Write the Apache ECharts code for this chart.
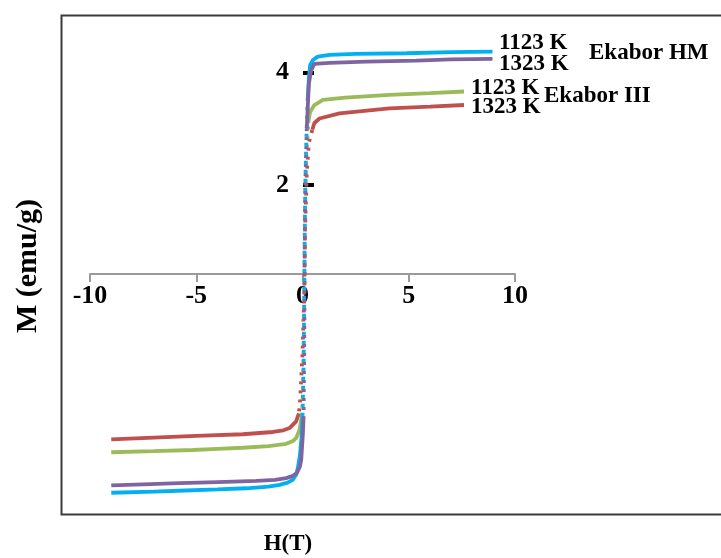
<!DOCTYPE html>
<html>
<head>
<meta charset="utf-8">
<script src="https://cdn.jsdelivr.net/npm/echarts@6/dist/echarts.min.js"></script>
<style>
html,body{margin:0;padding:0;background:#fff;}
#chart{width:721px;height:558px;}
</style>
</head>
<body>
<div id="chart"></div>
<script>
// ---- data (H in T, M in emu/g) ----
const seriesNames = ['Ekabor HM 1123 K', 'Ekabor HM 1323 K', 'Ekabor III 1123 K', 'Ekabor III 1323 K'];
const hm1123 = [[-9.0,-3.47],[-7.0,-3.45],[-5.5,-3.43],[-4.0,-3.41],[-2.65,-3.39],[-1.6,-3.36],[-1.08,-3.33],[-0.7,-3.29],[-0.46,-3.24],[-0.3,-3.15],[-0.22,-3.03],[-0.12,-2.8],[-0.05,-2.5],[0.0,-2.1],[0.05,-1.2],[0.08,0.0],[0.1,1.0],[0.13,2.0],[0.18,2.8],[0.24,3.5],[0.3,3.9],[0.36,4.13],[0.49,4.22],[0.72,4.28],[1.27,4.31],[2.5,4.33],[4.9,4.34],[7.0,4.36],[8.94,4.37]];
const hm1323 = [[-9.0,-3.34],[-7.5,-3.32],[-5.79,-3.30],[-4.0,-3.28],[-2.18,-3.26],[-1.3,-3.24],[-0.77,-3.21],[-0.45,-3.17],[-0.27,-3.12],[-0.12,-3.0],[-0.06,-2.88],[0.02,-2.41],[0.05,-2.12],[0.08,-1.0],[0.1,0.5],[0.13,2.0],[0.2,3.0],[0.3,3.8],[0.41,4.04],[0.56,4.15],[1.27,4.17],[3.0,4.19],[5.35,4.21],[7.0,4.23],[8.94,4.24]];
const iii1123 = [[-9.0,-2.75],[-7.0,-2.73],[-5.16,-2.71],[-4.0,-2.69],[-2.81,-2.67],[-1.6,-2.64],[-0.77,-2.60],[-0.45,-2.55],[-0.3,-2.50],[-0.14,-2.35],[-0.01,-2.05],[0.05,-1.0],[0.08,0.0],[0.12,1.5],[0.18,2.5],[0.27,3.1],[0.36,3.30],[0.56,3.42],[0.96,3.51],[2.0,3.55],[4.09,3.60],[6.0,3.63],[7.6,3.66]];
const iii1323 = [[-9.0,-2.52],[-7.0,-2.49],[-5.0,-2.46],[-2.81,-2.43],[-1.4,-2.39],[-0.9,-2.36],[-0.61,-2.32],[-0.3,-2.20],[-0.17,-2.06],[-0.11,-1.82],[0.0,-1.0],[0.08,0.0],[0.12,1.2],[0.2,2.2],[0.3,2.75],[0.46,2.98],[0.56,3.10],[0.8,3.18],[1.74,3.27],[4.09,3.36],[6.0,3.39],[7.6,3.42]];
const xTicks = [-10, -5, 0, 5, 10];
const yTickValues = [2, 4];
const annotations = ['1123 K', '1323 K', 'Ekabor HM', '1123 K', '1323 K', 'Ekabor III'];

// ---- styling ----
const colors = ['#00B0F0', '#8064A2', '#9BBB59', '#C0504D'];
const curves = [hm1123, hm1323, iii1123, iii1323];
const drawOrder = [3, 2, 0, 1];
const serif = '"Liberation Serif", "Times New Roman", serif';
const LO = -2.0, HI = 2.9;

function splitCurve(data) {
  const low = data.filter(p => p[1] <= LO);
  const high = data.filter(p => p[1] >= HI);
  const solid = low.concat([null], high);
  const mid = [low[low.length - 1]].concat(data.filter(p => p[1] > LO && p[1] < HI), [high[0]]);
  return {solid, mid};
}

const series = [];
drawOrder.forEach((ci, k) => {
  const parts = splitCurve(curves[ci]);
  series.push({
    name: seriesNames[ci], type: 'line', data: parts.solid, showSymbol: false,
    connectNulls: false, smooth: false,
    lineStyle: {color: colors[ci], width: 3.8}, itemStyle: {color: colors[ci]}, z: 2 + k
  });
  series.push({
    name: seriesNames[ci], type: 'line', data: parts.mid, showSymbol: false, smooth: false,
    lineStyle: {color: colors[ci], width: 3.8, type: [3, 6], dashOffset: ci * 2.3},
    itemStyle: {color: colors[ci]}, z: 2 + k
  });
});

const annPos = [[499, 43], [499, 64], [589, 53], [471, 88], [471, 107], [544, 96]];
const graphic = [
  {type: 'rect', left: 59, top: 13, shape: {width: 700, height: 499},
   style: {fill: null, stroke: '#3a3a3a', lineWidth: 2}, silent: true, z: 0}
];
annotations.forEach((t, i) => {
  graphic.push({type: 'text', x: annPos[i][0], y: annPos[i][1],
    style: {text: t, fill: '#000', font: 'bold 23px ' + serif, verticalAlign: 'middle'}, z: 10});
});
graphic.push({type: 'text', x: 288, y: 544,
  style: {text: 'H(T)', fill: '#000', font: 'bold 23px ' + serif, align: 'center', verticalAlign: 'middle'}});
graphic.push({type: 'text', x: 28, y: 266, rotation: Math.PI / 2,
  style: {text: 'M (emu/g)', fill: '#000', font: 'bold 30px ' + serif, align: 'center', verticalAlign: 'middle'}});

const chart = echarts.init(document.getElementById('chart'), null, {renderer: 'canvas'});
chart.setOption({
  animation: false,
  backgroundColor: '#fff',
  grid: {left: 90, right: 206, top: 16.1, bottom: 35.4, containLabel: false},
  xAxis: {
    type: 'value', min: xTicks[0], max: xTicks[xTicks.length - 1], interval: 5,
    position: 'bottom', offset: -248.6,
    axisLine: {onZero: false, lineStyle: {color: '#9a9a9a', width: 2}},
    axisTick: {show: true, length: 8, lineStyle: {color: '#9a9a9a', width: 2}},
    axisLabel: {color: '#000', fontFamily: serif, fontWeight: 'bold', fontSize: 26, margin: 9},
    splitLine: {show: false}
  },
  yAxis: {
    type: 'value', min: -4, max: 5,
    position: 'left', offset: -213,
    axisLine: {show: false, onZero: false},
    axisTick: {show: true, inside: true, length: 11, customValues: yTickValues, lineStyle: {color: '#000', width: 4}},
    axisLabel: {customValues: yTickValues, color: '#000', fontFamily: serif, fontWeight: 'bold', fontSize: 26, margin: 14, padding: [10, 0, 0, 0]},
    splitLine: {show: false}
  },
  graphic: graphic,
  series: series
});
</script>
</body>
</html>
